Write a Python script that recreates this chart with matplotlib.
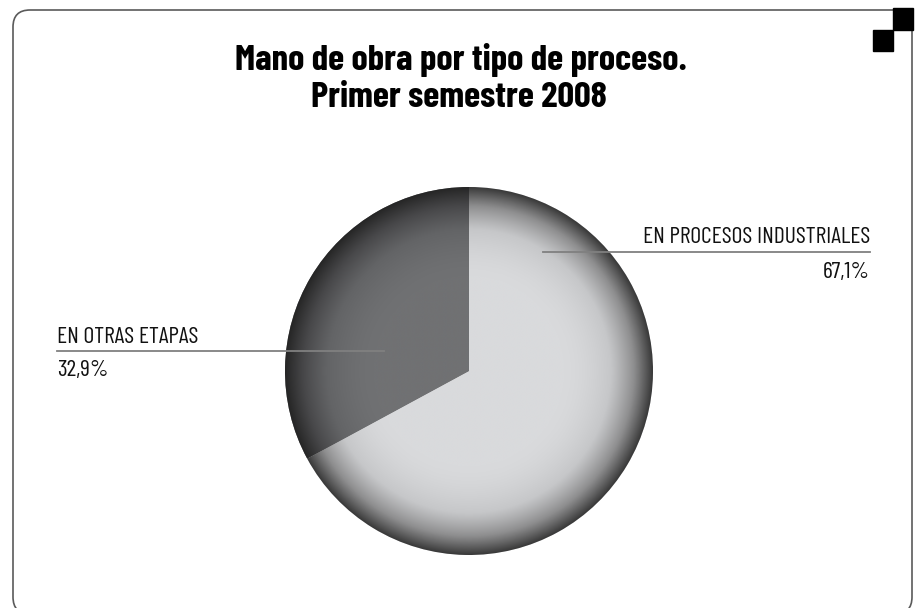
import numpy as np
import matplotlib
matplotlib.use("Agg")
import matplotlib.pyplot as plt
from matplotlib.patches import FancyBboxPatch, Rectangle
from matplotlib.colors import LinearSegmentedColormap

# Data
labels = ["EN PROCESOS INDUSTRIALES", "EN OTRAS ETAPAS"]
values = [67.1, 32.9]
pct_text = ["67,1%", "32,9%"]
title_lines = ["Mano de obra por tipo de proceso.", "Primer semestre 2008"]

W, H = 917, 608
fam = ["Barlow Condensed", "Roboto Condensed", "DejaVu Sans"]


def fy(y):
    # pixel row (from top) -> data y
    return H - y


fig = plt.figure(figsize=(W / 100, H / 100), dpi=100)
ax = fig.add_axes([0, 0, 1, 1])

# pie, center and radius in pixels
cx, cy, R = 469, fy(371), 184
wedges, _ = ax.pie(values, center=(cx, cy), radius=R, startangle=90,
                   counterclock=False, frame=True,
                   colors=["#d8d9db", "#6e6f71"])

# radial shading clipped to each wedge
n = 400
xx, yy = np.meshgrid(np.linspace(-1, 1, n), np.linspace(-1, 1, n))
rr = np.clip(np.hypot(xx, yy), 0, 1)
shade = np.clip((rr - 0.5) / 0.5, 0, 1) ** 1.8
cmaps = [
    LinearSegmentedColormap.from_list("l", ["#d9dadc", "#c6c7c9", "#8e8e8f", "#3a3a3a"]),
    LinearSegmentedColormap.from_list("d", ["#707173", "#636466", "#48484a", "#262626"]),
]
for w, cm in zip(wedges, cmaps):
    w.set_edgecolor("none")
    im = ax.imshow(shade, cmap=cm, vmin=0, vmax=1, origin="lower",
                   extent=(cx - R, cx + R, cy - R, cy + R), interpolation="bilinear",
                   zorder=2)
    im.set_clip_path(w)

# frame
frame = FancyBboxPatch((13, fy(614)), 912 - 13, 614 - 10,
                       boxstyle="round,pad=0,rounding_size=17",
                       fill=False, edgecolor="#5a5a5a", linewidth=1.2, zorder=1)
ax.add_patch(frame)
ax.add_patch(Rectangle((893, fy(30)), 20, 22, color="black", zorder=5))
ax.add_patch(Rectangle((873, fy(51)), 20, 21, color="black", zorder=5))

# title
ax.text(461, fy(70), title_lines[0], ha="center", va="baseline",
        fontsize=26.5, fontweight="bold", family=fam, color="black")
ax.text(459, fy(107), title_lines[1], ha="center", va="baseline",
        fontsize=26.5, fontweight="bold", family=fam, color="black")

# leader lines and labels
lab = dict(va="baseline", fontsize=17, fontweight="normal", family=fam, color="#111111")
ax.plot([543, 870], [fy(252), fy(252)], color="#808080", lw=1.3, zorder=4)
ax.text(870, fy(243), labels[0], ha="right", **lab)
ax.text(870, fy(278), pct_text[0], ha="right", **lab)

ax.plot([57, 384], [fy(351), fy(351)], color="#808080", lw=1.3, zorder=4)
ax.text(57, fy(343), labels[1], ha="left", **lab)
ax.text(57, fy(376), pct_text[1], ha="left", **lab)

ax.set_xlim(0, W)
ax.set_ylim(0, H)
ax.set_aspect("auto")
ax.axis("off")

fig.savefig("out.png", dpi=100)
